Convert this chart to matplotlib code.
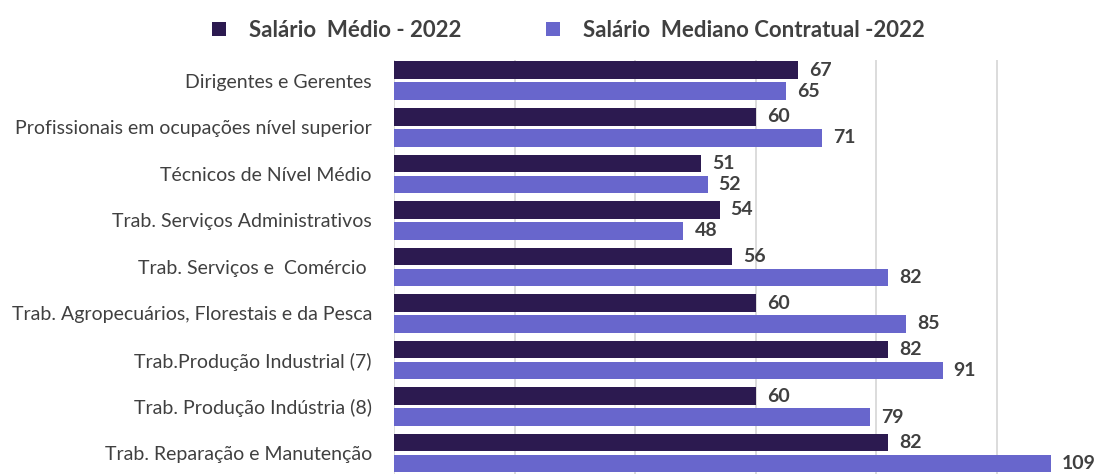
import matplotlib
matplotlib.use("Agg")
import matplotlib.pyplot as plt
import numpy as np

plt.rcParams.update({
    "font.family": ["Lato", "DejaVu Sans"],
    "figure.dpi": 100,
})

C_MEDIO = "#2C1A50"
C_MEDIANO = "#6866CC"
TXT = "#404040"

categorias = [
    "Dirigentes e Gerentes",
    "Profissionais em ocupações nível superior",
    "Técnicos de Nível Médio",
    "Trab. Serviços Administrativos",
    "Trab. Serviços e  Comércio ",
    "Trab. Agropecuários, Florestais e da Pesca",
    "Trab.Produção Industrial (7)",
    "Trab. Produção Indústria (8)",
    "Trab. Reparação e Manutenção",
]
salario_medio = [67, 60, 51, 54, 56, 60, 82, 60, 82]
salario_mediano = [65, 71, 52, 48, 82, 85, 91, 79, 109]

fig = plt.figure(figsize=(11.01, 4.75))
ax = fig.add_axes([0.358, 0.002, 0.642, 0.872])

y = np.arange(len(categorias))
off, h = 0.225, 0.38
b1 = ax.barh(y - off, salario_medio, height=h, color=C_MEDIO,
             label="Salário  Médio - 2022", zorder=2)
b2 = ax.barh(y + off, salario_mediano, height=h, color=C_MEDIANO,
             label="Salário  Mediano Contratual -2022", zorder=2)

for bars in (b1, b2):
    ax.bar_label(bars, padding=8, fontsize=14, fontweight="bold", color=TXT)

ax.set_xlim(0, 117.3)
ax.set_ylim(8.45, -0.45)
ax.set_xticks([0, 20, 40, 60, 80, 100])
ax.set_xticklabels([])
ax.set_yticks(y)
ax.set_yticklabels(categorias, fontsize=14, color=TXT)
ax.tick_params(axis="both", length=0)
ax.tick_params(axis="y", pad=16)
ax.grid(axis="x", color="#d9d9d9", lw=1.3, zorder=0)
for s in ax.spines.values():
    s.set_visible(False)

fig.legend(handles=[b1, b2], loc="upper center", bbox_to_anchor=(0.516, 1.0),
           ncol=2, frameon=False, handlelength=0.63, handleheight=0.63,
           columnspacing=3.8, handletextpad=1.04,
           prop={"size": 16, "weight": "bold"}, labelcolor=TXT)

fig.savefig("out.png", dpi=100)
